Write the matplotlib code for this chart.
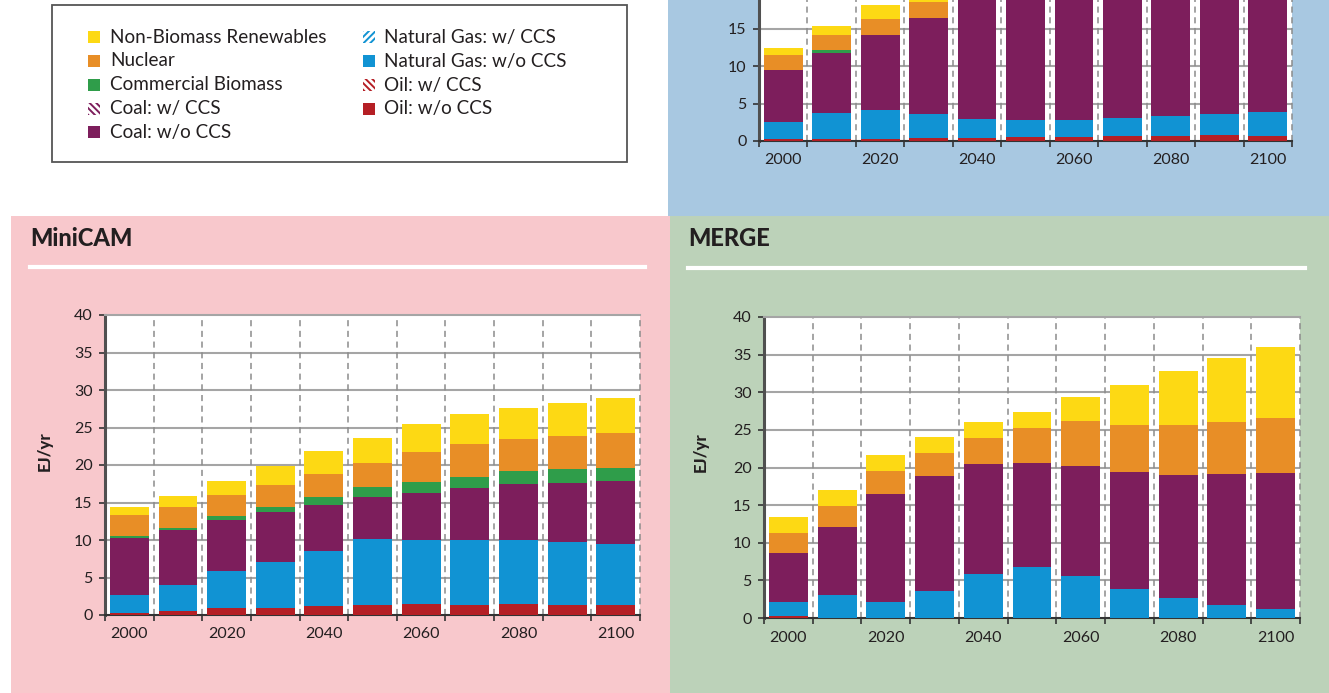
import numpy as np
import matplotlib
matplotlib.use("Agg")
import matplotlib.pyplot as plt
from matplotlib.patches import Rectangle
from matplotlib.lines import Line2D

plt.rcParams['font.family'] = ['Lato', 'DejaVu Sans']
plt.rcParams['hatch.linewidth'] = 1.4

W, H = 1329, 693
TXT = '#231f20'

years = [2000, 2010, 2020, 2030, 2040, 2050, 2060, 2070, 2080, 2090, 2100]

# segment colours, bottom to top
c_oil = '#b51f25'
c_gas = '#1193d3'
c_coal = '#7d1e5c'
c_bio = '#2f9d4a'
c_nuc = '#e88e26'
c_ren = '#fdd914'

# top panel (only the lower part is visible in the picture)
igsm_oil = [0.27, 0.27, 0.27, 0.45, 0.45, 0.58, 0.58, 0.71, 0.71, 0.85, 0.71]
igsm_gas = [2.27, 3.47, 3.87, 3.15, 2.49, 2.22, 2.22, 2.41, 2.63, 2.75, 3.16]
igsm_coal = [6.94, 8.01, 10.01, 12.82, 18.5, 21.0, 23.0, 25.0, 27.0, 29.0, 31.0]
igsm_bio = [0.0, 0.40, 0.0, 0.0, 0.3, 0.5, 0.7, 0.9, 1.0, 1.1, 1.2]
igsm_nuc = [2.00, 2.00, 2.14, 2.14, 2.3, 2.5, 2.7, 2.9, 3.0, 3.1, 3.2]
igsm_ren = [0.94, 1.20, 1.87, 1.40, 1.6, 1.8, 2.0, 2.2, 2.4, 2.6, 2.8]

# MiniCAM
mini_oil = [0.31, 0.53, 0.93, 0.93, 1.20, 1.33, 1.47, 1.33, 1.47, 1.33, 1.33]
mini_gas = [2.36, 3.47, 4.94, 6.14, 7.33, 8.80, 8.53, 8.67, 8.53, 8.40, 8.14]
mini_coal = [7.60, 7.33, 6.80, 6.66, 6.14, 5.60, 6.27, 6.93, 7.47, 7.87, 8.40]
mini_bio = [0.26, 0.27, 0.53, 0.67, 1.06, 1.34, 1.46, 1.47, 1.73, 1.87, 1.73]
mini_nuc = [2.80, 2.80, 2.80, 2.93, 3.07, 3.20, 4.00, 4.40, 4.27, 4.40, 4.67]
mini_ren = [1.07, 1.47, 1.87, 2.54, 3.07, 3.33, 3.74, 4.00, 4.13, 4.40, 4.66]

# MERGE
merge_oil = [0.31, 0, 0, 0, 0, 0, 0, 0, 0, 0, 0]
merge_gas = [1.86, 3.09, 2.17, 3.62, 5.88, 6.80, 5.61, 3.89, 2.70, 1.77, 1.24]
merge_coal = [6.49, 9.01, 14.31, 15.25, 14.58, 13.79, 14.58, 15.51, 16.30, 17.36, 18.03]
merge_bio = [0, 0, 0, 0, 0, 0, 0, 0, 0, 0, 0]
merge_nuc = [2.65, 2.80, 3.05, 3.05, 3.44, 4.64, 5.97, 6.23, 6.63, 6.90, 7.29]
merge_ren = [2.12, 2.10, 2.12, 2.12, 2.13, 2.12, 3.18, 5.30, 7.16, 8.48, 9.41]

legend_col1 = ['Non-Biomass Renewables', 'Nuclear', 'Commercial Biomass',
               'Coal: w/ CCS', 'Coal: w/o CCS']
legend_col2 = ['Natural Gas: w/ CCS', 'Natural Gas: w/o CCS',
               'Oil: w/ CCS', 'Oil: w/o CCS']


def fx(x):
    return x / W


def fy(y):
    return 1 - y / H


def add_box(x0, y0, x1, y1, **kw):
    fig.add_artist(Rectangle((fx(x0), fy(y1)), fx(x1) - fx(x0), fy(y0) - fy(y1),
                             transform=fig.transFigure, **kw))


def make_axes(l, r, t, b):
    return fig.add_axes([fx(l), fy(b), fx(r) - fx(l), fy(t) - fy(b)])


def draw_panel(ax, segs, ymax_label=40):
    x = np.arange(len(years))
    bottom = np.zeros(len(years))
    cols = [c_oil, c_gas, c_coal, c_bio, c_nuc, c_ren]
    for vals, col in zip(segs, cols):
        ax.bar(x, vals, width=0.8, bottom=bottom, color=col, linewidth=0, zorder=3)
        bottom += np.array(vals)
    ax.set_xlim(-0.5, len(years) - 0.5)
    ax.set_ylim(0, 40)
    for yv in range(5, 40, 5):
        ax.axhline(yv, color='#a5a5a5', lw=1.5, zorder=1)
    for bx in np.arange(0.5, len(years), 1):
        ax.axvline(bx, color='#8c8c8c', lw=1.1, ls=(0, (4, 3)), zorder=1, clip_on=False)
    ax.set_yticks(np.arange(0, ymax_label + 1, 5))
    ax.set_xticks(np.arange(-0.5, len(years), 1))
    ax.set_xticklabels([])
    ax.set_xticks(x[::2], minor=True)
    ax.set_xticklabels([str(y) for y in years[::2]], minor=True)
    ax.tick_params(axis='x', which='major', length=4.5, width=1.2, color='#333333', direction='out')
    ax.tick_params(axis='x', which='minor', length=0, pad=9, labelsize=11.5, labelcolor=TXT)
    ax.tick_params(axis='y', length=4, width=1.2, color='#333333', pad=5, labelsize=11.5, labelcolor=TXT)
    ax.spines['right'].set_visible(False)
    ax.spines['top'].set_color('#a5a5a5')
    ax.spines['top'].set_linewidth(1.5)
    ax.spines['left'].set_color('#505050')
    ax.spines['left'].set_linewidth(2.2)
    ax.spines['bottom'].set_color('#333333')
    ax.spines['bottom'].set_linewidth(1.5)
    ax.set_facecolor('white')


fig = plt.figure(figsize=(W / 100, H / 100), dpi=100)
fig.patch.set_facecolor('white')

# panel backgrounds
add_box(668, 0, W, 216, facecolor='#a8c8e1', edgecolor='none', zorder=0)
add_box(11, 216, 670, H, facecolor='#f8c8cc', edgecolor='none', zorder=0)
add_box(670, 216, W, H, facecolor='#bcd2b9', edgecolor='none', zorder=0)

# legend box
add_box(52, 5, 627, 162, facecolor='white', edgecolor='#555555', lw=1.3, zorder=1)

rows = [37.3, 61, 85, 108.7, 132.3]
col1_style = [(c_ren, None), (c_nuc, None), (c_bio, None), (c_coal, '\\\\\\\\\\'), (c_coal, None)]
col2_style = [(c_gas, '/////'), (c_gas, None), (c_oil, '\\\\\\\\\\'), (c_oil, None)]
for labels, styles, mx, tx in [(legend_col1, col1_style, 88, 110),
                               (legend_col2, col2_style, 363, 384)]:
    for lab, (col, hatch), ry in zip(labels, styles, rows):
        if hatch:
            add_box(mx, ry - 6, mx + 12, ry + 6, facecolor='white', edgecolor=col,
                    hatch=hatch, lw=0, zorder=2)
        else:
            add_box(mx, ry - 6, mx + 12, ry + 6, facecolor=col, edgecolor='none', zorder=2)
        fig.text(fx(tx), fy(ry), lab, fontsize=13.6, color=TXT, va='center', ha='left')

# top panel
ax_top = make_axes(759, 1292, 141 - 7.47 * 40, 141)
draw_panel(ax_top, [igsm_oil, igsm_gas, igsm_coal, igsm_bio, igsm_nuc, igsm_ren], ymax_label=15)

# MiniCAM panel
ax_mini = make_axes(105, 640, 315, 615)
draw_panel(ax_mini, [mini_oil, mini_gas, mini_coal, mini_bio, mini_nuc, mini_ren])
fig.text(fx(30), fy(239), 'MiniCAM', fontsize=17, fontweight='black', color=TXT, va='center')
fig.add_artist(Line2D([fx(30), fx(645)], [fy(267), fy(267)], color='white', lw=3,
                      transform=fig.transFigure))
fig.text(fx(45), fy(451), 'EJ/yr', fontsize=12, fontweight='black', color=TXT,
         rotation=90, ha='center', va='center')

# MERGE panel
ax_merge = make_axes(764, 1300, 317, 618)
draw_panel(ax_merge, [merge_oil, merge_gas, merge_coal, merge_bio, merge_nuc, merge_ren])
fig.text(fx(688), fy(239), 'MERGE', fontsize=17, fontweight='black', color=TXT, va='center')
fig.add_artist(Line2D([fx(688), fx(1305)], [fy(267.5), fy(267.5)], color='white', lw=3,
                      transform=fig.transFigure))
fig.text(fx(701), fy(452), 'EJ/yr', fontsize=12, fontweight='black', color=TXT,
         rotation=90, ha='center', va='center')

fig.savefig('out.png', dpi=100)
